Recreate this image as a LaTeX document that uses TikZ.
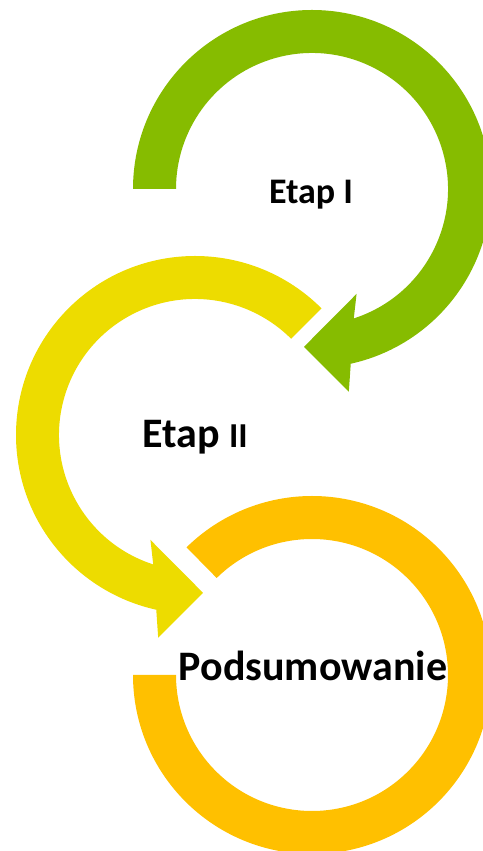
\documentclass[tikz,border=0pt]{standalone}
\usepackage{fontspec}
\setmainfont{Carlito}
\definecolor{stagegreen}{RGB}{134,188,0}
\definecolor{stageyellow}{RGB}{237,220,0}
\definecolor{stageorange}{RGB}{255,192,0}
\tikzstyle{stage}=[inner sep=0pt,anchor=base,text=black,font=\bfseries]
\tikzstyle{ring}=[draw=none]
\begin{document}
\begin{tikzpicture}[x=1pt,y=1pt]
        \useasboundingbox (0,0) rectangle (482,851);
        \coordinate (c1) at (312,662);
        \coordinate (c2) at (195,416);
        \coordinate (c3) at (312,176);

        \fill [ring,stagegreen,shift={(c1)}] (180:179) arc[start angle=180,end angle=-77.5,radius=179]
            -- (-79.7:206) -- (-92.9:158) -- (-67:114) -- (-72.1:136)
            arc[start angle=-72.1,end angle=180,radius=136] -- cycle;
        \fill [ring,stageyellow,shift={(c2)}] (45:179) arc[start angle=45,end angle=257.5,radius=179]
            -- (259.7:206) -- (272.9:158) -- (247:114) -- (252.1:136)
            arc[start angle=252.1,end angle=45,radius=136] -- cycle;
        \fill [ring,stageorange,shift={(c3)}] (180:179) arc[start angle=180,end angle=494.5,radius=179]
            -- (134.5:136) arc[start angle=134.5,end angle=-180,radius=136] -- cycle;

        \node (etapone) [stage] at (311,647) {\fontsize{36}{36}\selectfont Etap I};
        \node (etaptwo) [stage] at (195,403) {\fontsize{42}{42}\selectfont Etap \fontsize{35}{35}\selectfont II};
        \node (summary) [stage] at (313,170) {\fontsize{42}{42}\selectfont Podsumowanie};
\end{tikzpicture}
\end{document}
